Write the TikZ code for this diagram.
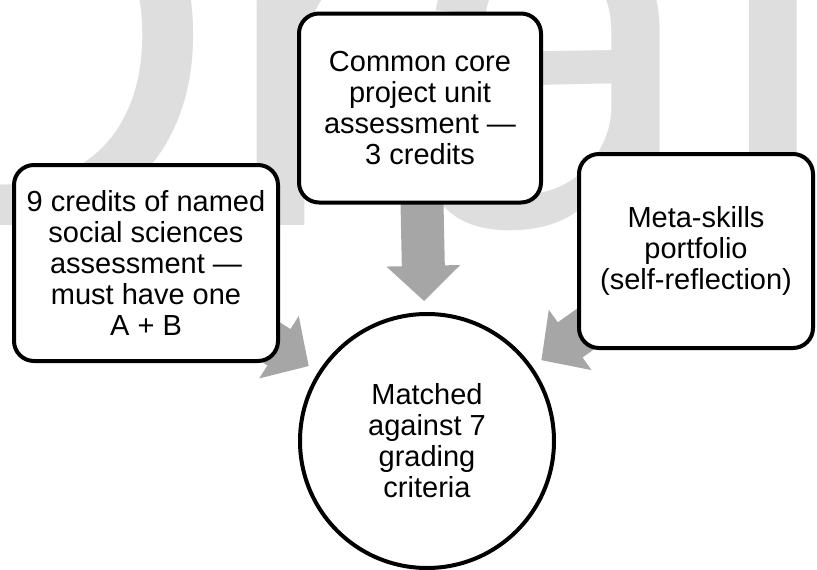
\documentclass[tikz,border=0pt]{standalone}
\usepackage{fontspec}
\setmainfont{Liberation Sans}
\usetikzlibrary{arrows.meta}
\pgfdeclarelayer{watermark}
\pgfdeclarelayer{arrows}
\pgfsetlayers{watermark,arrows,main}
\definecolor{wmgray}{RGB}{222,222,222}
\definecolor{arrowgray}{RGB}{166,166,166}

\begin{document}
\begin{tikzpicture}[x=1pt,y=-1pt,
	box/.style={draw,line width=4pt,rounded corners=20pt,fill=white,align=center,
		font=\fontsize{29}{31}\selectfont,inner sep=0pt},
	blockarrow/.style={draw=arrowgray,line width=43pt,shorten >=11pt,
		-{Triangle[length=0pt 0.82,width=0pt 1.67]}}]
\useasboundingbox (0,0) rectangle (817,570);
\begin{pgfonlayer}{watermark}
\node[anchor=base west,inner sep=0pt,text=wmgray,font=\fontsize{543}{543}\selectfont] (draftmark) at (-173,225) {Draft};
\end{pgfonlayer}
% the four blocks
\node[box,minimum width=264pt,minimum height=196pt] (social) at (146,263) {9 credits of named\\social sciences\\assessment —\\must have one\\A + B};
\node[box,minimum width=242pt,minimum height=189pt] (core) at (420,108) {Common core\\project unit\\assessment —\\3 credits};
\node[box,minimum width=234pt,minimum height=194pt] (meta) at (696,251) {Meta-skills\\portfolio\\(self-reflection)};
\node[box,circle,rounded corners=0pt,minimum size=254pt] (criteria) at (427,441) {Matched\\against 7\\grading\\criteria};
% block arrows underneath
\begin{pgfonlayer}{arrows}
\draw[blockarrow] (social.center) -- (criteria);
\draw[blockarrow] (core.center) -- (criteria);
\draw[blockarrow] (meta.center) -- (criteria);
\end{pgfonlayer}
\end{tikzpicture}
\end{document}
